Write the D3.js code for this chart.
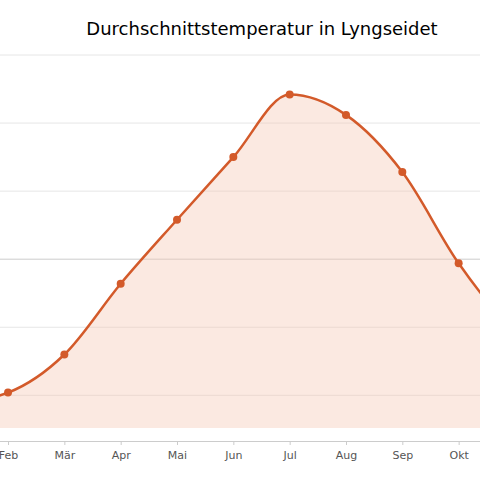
<!DOCTYPE html><html><head><meta charset="utf-8"><script src="https://cdn.jsdelivr.net/npm/d3@7"></script>
<style>body{margin:0;background:#fff}</style></head><body><svg id="c" width="480" height="480"></svg>
<script>
const months=["Jan","Feb","Mär","Apr","Mai","Jun","Jul","Aug","Sep","Okt","Nov","Dez"];
const temps=[-10.6,-9.8,-7.0,-1.8,2.9,7.5,12.1,10.6,6.4,-0.3,-5.4,-8.6];
const yTicks=[-10,-5,0,5,10,15];
const svg=d3.select("#c");
const x=d3.scalePoint().domain(months).range([-48.3,571.3]);
const y=d3.scaleLinear().domain([-12.4,15]).range([428,55]);
svg.append("text").attr("x",262).attr("y",35).attr("text-anchor","middle").attr("font-family","DejaVu Sans").attr("font-size",18).text("Durchschnittstemperatur in Lyngseidet");
yTicks.forEach(t=>svg.append("line").attr("x1",0).attr("x2",480).attr("y1",y(t)).attr("y2",y(t)).attr("stroke",t===0?"#ccc":"#e6e6e6"));
const curve=d3.curveMonotoneX;
svg.append("path").datum(temps).attr("fill","#f4c7b4").attr("fill-opacity",0.4)
 .attr("d",d3.area().x((d,i)=>x(months[i])).y0(y(-12.4)).y1(d=>y(d)).curve(curve));
svg.append("path").datum(temps).attr("fill","none").attr("stroke","#d35a2a").attr("stroke-width",2.5)
 .attr("d",d3.line().x((d,i)=>x(months[i])).y(d=>y(d)).curve(curve));
svg.selectAll("circle").data(temps).join("circle").attr("cx",(d,i)=>x(months[i])).attr("cy",d=>y(d)).attr("r",4).attr("fill","#d35a2a");
const ax=svg.append("g").attr("transform","translate(0,441)").call(d3.axisBottom(x).tickSize(4).tickPadding(6));
ax.select(".domain").attr("stroke","#ccc");
ax.selectAll(".tick line").attr("stroke","#ccc");
ax.selectAll("text").attr("font-family","DejaVu Sans").attr("font-size",11).attr("fill","#555");
</script></body></html>
